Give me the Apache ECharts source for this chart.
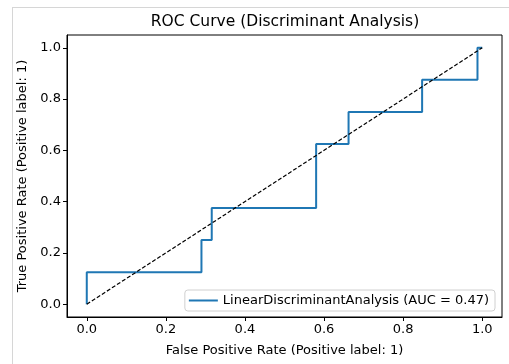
<!DOCTYPE html>
<html>
<head>
<meta charset="utf-8">
<script src="https://cdn.jsdelivr.net/npm/echarts@6/dist/echarts.min.js"></script>
<style>
  html, body { margin: 0; padding: 0; background: #fff; }
  #chart { width: 509px; height: 364px; }
</style>
</head>
<body>
<div id="chart"></div>
<script>
// ROC points (corners of the step curve)
const fpr = [0, 0, 0.29, 0.29, 0.316, 0.316, 0.58, 0.58, 0.662, 0.662, 0.848, 0.848, 0.988, 0.988, 1]
const tpr = [0, 0.125, 0.125, 0.25, 0.25, 0.375, 0.375, 0.625, 0.625, 0.75, 0.75, 0.875, 0.875, 1, 1]
const chanceX = [0, 1]
const chanceY = [0, 1]
const ticks = [0, 0.2, 0.4, 0.6, 0.8, 1.0]
const aucLabel = 'LinearDiscriminantAnalysis (AUC = 0.47)'

const font = 'DejaVu Sans'

const chart = echarts.init(document.getElementById('chart'))

const axisCommon = {
  type: 'value',
  min: -0.05,
  max: 1.05,
  nameLocation: 'middle',
  nameTextStyle: {fontFamily: font, fontSize: 13, color: '#000'},
  splitLine: {show: false},
  axisLine: {show: true, onZero: false, lineStyle: {color: '#000', width: 1}},
  axisTick: {show: true, length: 4, customValues: ticks, lineStyle: {color: '#000'}},
  axisLabel: {
    customValues: ticks,
    fontFamily: font, fontSize: 13, color: '#000', margin: 6,
    formatter: v => v.toFixed(1)
  }
}

chart.setOption({
  animation: false,
  title: {
    text: 'ROC Curve (Discriminant Analysis)',
    left: 285, textAlign: 'center', top: 14, padding: 0,
    textStyle: {fontFamily: font, fontSize: 15.5, fontWeight: 'normal', color: '#000'}
  },
  grid: {
    left: 67, right: 7, top: 35, bottom: 47,
    show: true, borderColor: '#000', borderWidth: 1
  },
  legend: {
    data: [{name: aucLabel, icon: 'rect'}],
    right: 14, bottom: 53,
    borderColor: '#d0d0d0', borderWidth: 1, borderRadius: 3,
    padding: [4, 6, 4, 4],
    itemWidth: 29, itemHeight: 2, itemGap: 8,
    textStyle: {fontFamily: font, fontSize: 13, color: '#000'}
  },
  xAxis: Object.assign({}, axisCommon, {
    name: 'False Positive Rate (Positive label: 1)',
    nameGap: 27
  }),
  yAxis: Object.assign({}, axisCommon, {
    name: 'True Positive Rate (Positive label: 1)',
    nameGap: 31
  }),
  series: [
    {
      name: aucLabel,
      type: 'line',
      data: fpr.map((x, i) => [x, tpr[i]]),
      showSymbol: false,
      symbol: 'none',
      itemStyle: {color: '#1f77b4'},
      lineStyle: {color: '#1f77b4', width: 2},
      z: 2
    },
    {
      name: 'chance',
      type: 'line',
      data: chanceX.map((x, i) => [x, chanceY[i]]),
      showSymbol: false,
      symbol: 'none',
      lineStyle: {color: '#000', width: 1.2, type: [4, 2]},
      z: 3
    }
  ],
  graphic: [
    {type: 'line', shape: {x1: 12, y1: 7.5, x2: 509, y2: 7.5}, style: {stroke: '#d6d6d6', lineWidth: 1}},
    {type: 'line', shape: {x1: 12.5, y1: 7, x2: 12.5, y2: 364}, style: {stroke: '#d6d6d6', lineWidth: 1}}
  ]
})
</script>
</body>
</html>
